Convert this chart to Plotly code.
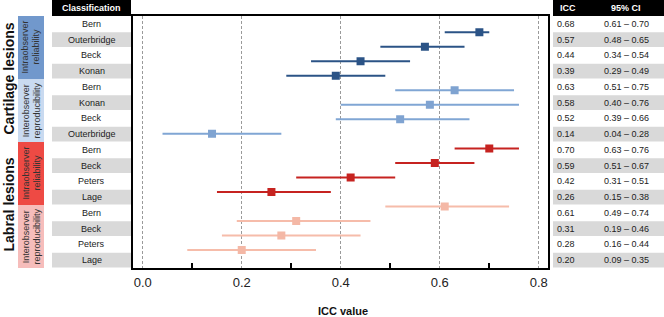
import plotly.graph_objects as go

# ---------------- data ----------------
lesion_groups = ["Cartilage lesions", "Labral lesions"]
subgroups = ["Intraobserver<br>reliability", "Interobserver<br>reproducibility",
             "Intraobserver<br>reliability", "Interobserver<br>reproducibility"]
classifications = ["Bern", "Outerbridge", "Beck", "Konan",
                   "Bern", "Konan", "Beck", "Outerbridge",
                   "Bern", "Beck", "Peters", "Lage",
                   "Bern", "Beck", "Peters", "Lage"]
icc = [0.68, 0.57, 0.44, 0.39,
       0.63, 0.58, 0.52, 0.14,
       0.70, 0.59, 0.42, 0.26,
       0.61, 0.31, 0.28, 0.20]
ci_lo = [0.61, 0.48, 0.34, 0.29,
         0.51, 0.40, 0.39, 0.04,
         0.63, 0.51, 0.31, 0.15,
         0.49, 0.19, 0.16, 0.09]
ci_hi = [0.70, 0.65, 0.54, 0.49,
         0.75, 0.76, 0.66, 0.28,
         0.76, 0.67, 0.51, 0.38,
         0.74, 0.46, 0.44, 0.35]
x_tick_vals = [0.0, 0.2, 0.4, 0.6, 0.8]
x_tick_text = ["0.0", "0.2", "0.4", "0.6", "0.8"]

# ---------------- styles ----------------
W, H = 664, 317
line_colors = ["#2b5386", "#80a6d4", "#c62320", "#f6bcaa"]
marker_colors = ["#2b5386", "#7fa3d1", "#c62320", "#f4b8a6"]
box_colors = ["#7198cc", "#c9daf0", "#ee4a44", "#f6bdbb"]

def px(x):
    return x / W

def py(y):
    return 1 - y / H

PLOT_L, PLOT_R, PLOT_T, PLOT_B = 133.3, 547.7, 15.7, 268.3
TAB_T, TAB_B = 16.0, 268.0
ROW_H = (TAB_B - TAB_T) / len(classifications)

fig = go.Figure()

rows = list(range(1, len(classifications) + 1))
for g in range(4):
    sl = slice(4 * g, 4 * g + 4)
    xs = icc[sl]
    fig.add_trace(go.Scatter(
        x=xs, y=rows[sl], mode="markers",
        marker=dict(symbol="square", size=8, color=marker_colors[g]),
        error_x=dict(type="data", symmetric=False,
                     array=[h - v for h, v in zip(ci_hi[sl], xs)],
                     arrayminus=[v - l for v, l in zip(xs, ci_lo[sl])],
                     color=line_colors[g], thickness=2, width=0),
        showlegend=False, hoverinfo="skip"))

shapes = []
annotations = []

# header boxes
shapes.append(dict(type="rect", xref="paper", yref="paper",
                   x0=px(52), x1=px(131), y0=py(0), y1=py(16),
                   fillcolor="black", line=dict(width=0)))
shapes.append(dict(type="rect", xref="paper", yref="paper",
                   x0=px(553), x1=px(664), y0=py(0), y1=py(16),
                   fillcolor="black", line=dict(width=0)))
annotations += [
    dict(text="<b>Classification</b>", x=px(91.5), y=py(8), xref="paper", yref="paper",
         showarrow=False, xanchor="center", yanchor="middle",
         font=dict(size=9, color="white")),
    dict(text="<b>ICC</b>", x=px(568), y=py(8), xref="paper", yref="paper",
         showarrow=False, xanchor="center", yanchor="middle",
         font=dict(size=9, color="white")),
    dict(text="<b>95% CI</b>", x=px(626), y=py(8), xref="paper", yref="paper",
         showarrow=False, xanchor="center", yanchor="middle",
         font=dict(size=9, color="white")),
]

# table rows
for i, name in enumerate(classifications):
    y0 = TAB_T + ROW_H * i
    yc = y0 + ROW_H / 2
    if i % 2 == 1:
        shapes.append(dict(type="rect", xref="paper", yref="paper",
                           x0=px(52), x1=px(131), y0=py(y0 + 0.6), y1=py(y0 + ROW_H - 0.6),
                           fillcolor="#d9d9d9", line=dict(width=0), layer="below"))
        shapes.append(dict(type="rect", xref="paper", yref="paper",
                           x0=px(553), x1=px(664), y0=py(y0 + 0.6), y1=py(y0 + ROW_H - 0.6),
                           fillcolor="#d9d9d9", line=dict(width=0), layer="below"))
    annotations.append(dict(text=name, x=px(91.5), y=py(yc), xref="paper", yref="paper",
                            showarrow=False, xanchor="center", yanchor="middle",
                            font=dict(size=9, color="#222")))
    annotations.append(dict(text=f"{icc[i]:.2f}", x=px(566), y=py(yc), xref="paper", yref="paper",
                            showarrow=False, xanchor="center", yanchor="middle",
                            font=dict(size=9, color="#222")))
    annotations.append(dict(text=f"{ci_lo[i]:.2f} \u2013 {ci_hi[i]:.2f}", x=px(626), y=py(yc),
                            xref="paper", yref="paper",
                            showarrow=False, xanchor="center", yanchor="middle",
                            font=dict(size=9, color="#222")))

# subgroup boxes
for g in range(4):
    y0 = TAB_T + ROW_H * 4 * g
    y1 = y0 + ROW_H * 4
    shapes.append(dict(type="rect", xref="paper", yref="paper",
                       x0=px(18), x1=px(44), y0=py(y0), y1=py(y1),
                       fillcolor=box_colors[g], line=dict(width=0), layer="below"))
    annotations.append(dict(text=subgroups[g], x=px(31), y=py((y0 + y1) / 2),
                            xref="paper", yref="paper", showarrow=False, textangle=-90,
                            xanchor="center", yanchor="middle",
                            font=dict(size=9, color="#333")))

# lesion group labels
for k, name in enumerate(lesion_groups):
    y0 = TAB_T + ROW_H * 8 * k
    y1 = y0 + ROW_H * 8
    annotations.append(dict(text=f"<b>{name}</b>", x=px(8.5), y=py((y0 + y1) / 2),
                            xref="paper", yref="paper", showarrow=False, textangle=-90,
                            xanchor="center", yanchor="middle",
                            font=dict(size=14, color="#111")))

# axis title
annotations.append(dict(text="<b>ICC value</b>", x=px(343), y=py(311), xref="paper", yref="paper",
                        showarrow=False, xanchor="center", yanchor="middle",
                        font=dict(size=11, color="#111")))

fig.update_layout(
    width=W, height=H,
    margin=dict(l=0, r=0, t=0, b=0),
    paper_bgcolor="white", plot_bgcolor="white",
    font=dict(family="Liberation Sans, Arial, sans-serif"),
    shapes=shapes, annotations=annotations,
    xaxis=dict(domain=[px(PLOT_L), px(PLOT_R)], range=[-0.019, 0.818],
               tickmode="array", tickvals=x_tick_vals, ticktext=x_tick_text,
               ticks="", showgrid=True, gridcolor="#9a9a9a", gridwidth=1,
               griddash="3px,2px", zeroline=False,
               showline=True, linecolor="black", linewidth=2, mirror=True,
               tickfont=dict(size=13, color="#222"), automargin=False,
               ticklabelstandoff=1,
               minor=dict(tickmode="array", tickvals=[0.1, 0.3, 0.5, 0.7],
                          ticks="inside", ticklen=5, tickwidth=1.5,
                          tickcolor="black", showgrid=False)),
    yaxis=dict(domain=[py(PLOT_B), py(PLOT_T)], range=[17.26, -0.14],
               showticklabels=False, ticks="", showgrid=False, zeroline=False,
               showline=True, linecolor="black", linewidth=2, mirror=True,
               automargin=False),
)

fig.write_html("out.html",
               config={"displayModeBar": False},
               post_script="document.body.style.margin='0';"
                           "document.body.style.overflow='hidden';")
